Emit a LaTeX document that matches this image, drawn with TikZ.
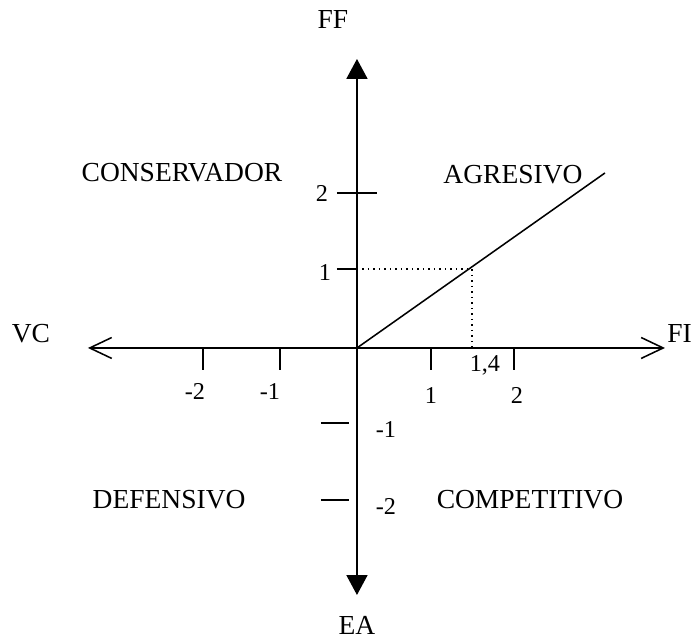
\documentclass[tikz,border=0pt]{standalone}
\usepackage{fontspec}
\setmainfont{Liberation Serif}
\usetikzlibrary{arrows.meta}
\tikzset{
  quad/.style={font=\fontsize{12.5}{14}\selectfont},
  ticklab/.style={font=\fontsize{11}{12}\selectfont},
  tick/.style={line width=.9pt}
}
\begin{document}
\begin{tikzpicture}[x=1.23cm, y=1.23cm, line width=.7pt]
	\useasboundingbox (-4.636,-3.766) rectangle (4.338,4.519);
	% Trục FF - EA
	\node[quad] (ff) at (-0.312,4.26) {FF};
	\node[quad, inner sep=1pt] (ea) at (0,-3.60) {EA};
	\coordinate (top) at (0,3.753);
	\coordinate (bot) at (0,-3.208);
	\draw[{Triangle[length=9pt,width=9.5pt]}-{Triangle[length=9pt,width=9.5pt]}] (bot) -- (top);
	% Trục VC - FI
	\node[quad] (vc) at (-4.234,0.182) {VC};
	\node[quad, anchor=west, inner sep=0pt] (fi) at (4.02,0.182) {FI};
	\coordinate (lft) at (-3.494,0);
	\coordinate (rgt) at (4.0,0);
	\draw[{Straight Barb[length=10pt,width=9.5pt]}-{Straight Barb[length=10pt,width=9.5pt]}] (lft) -- (rgt);
	\coordinate (O) at (0,0);
	% vạch chia trên trục hoành
	\foreach \x/\lx/\ly/\t in {-2/-2.104/-0.571/-2, -1/-1.13/-0.571/-1, 0.96/0.961/-0.623/1, 2.04/2.078/-0.623/2}{
		\draw[tick] (\x,0)--(\x,-0.29);
		\node[ticklab] (x\t) at (\lx,\ly) {\t};
	}
	% vạch chia trên trục tung
	\draw[tick] (-0.26,2.013)--(0.26,2.013);
	\node[ticklab] (y2) at (-0.455,2.0) {2};
	\draw[tick] (-0.26,1.026)--(0,1.026);
	\node[ticklab] (y1) at (-0.416,0.974) {1};
	\foreach \y/\t in {-0.974/-1, -1.974/-2}{
		\draw[tick] (-0.468,\y)--(-0.104,\y);
		\node[ticklab] (y\t) at (0.377,\y-0.09) {\t};
	}
	% đường thẳng và điểm 1,4
	\coordinate (P) at (1.494,1.026);
	\coordinate (end) at (3.221,2.273);
	\draw (O) -- (end);
	\draw[dotted, line width=.5pt] (0,1.026) -- (P) -- (1.494,0);
	\node[ticklab] (x14) at (1.662,-0.22) {1,4};
	% các góc phần tư
	\node[quad] (cons) at (-2.273,2.273) {CONSERVADOR};
	\node[quad] (agr) at (2.026,2.247) {AGRESIVO};
	\node[quad] (def) at (-2.44,-1.97) {DEFENSIVO};
	\node[quad] (comp) at (2.247,-1.97) {COMPETITIVO};
\end{tikzpicture}
\end{document}
